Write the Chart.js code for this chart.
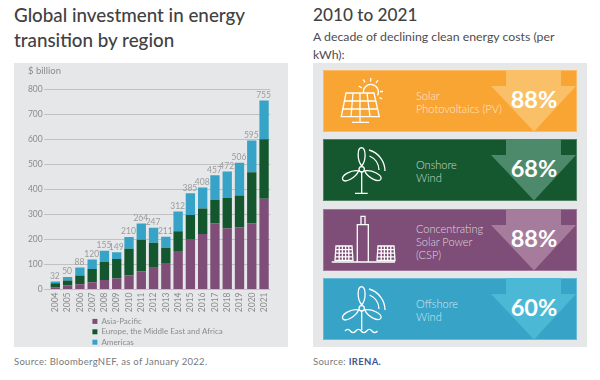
<!DOCTYPE html>
<html lang="en">
  <head>
    <meta charset="utf-8" />
    <title>Global investment in energy transition by region</title>
    <style>
      * {
        margin: 0;
        padding: 0;
        box-sizing: border-box;
        font-family: Lato, sans-serif;
      }
      body {
        width: 600px;
        height: 380px;
        background: #fff;
        position: relative;
        overflow: hidden;
      }
      .abs {
        position: absolute;
        white-space: nowrap;
      }
      .heading {
        font-size: 18.8px;
        font-weight: 500;
        color: #414142;
        line-height: 25px;
      }
      .sub {
        font-size: 12.3px;
        color: #4d4d4f;
        line-height: 18px;
      }
      .source {
        font-size: 9.5px;
        color: #77787b;
        letter-spacing: 0.3px;
      }
      .source b {
        color: #40598f;
      }
      .panel {
        background: #e6e7e8;
      }
      .card {
        position: absolute;
        left: 323px;
        width: 254px;
        height: 62px;
        border: 1px solid rgba(255, 255, 255, 0.25);
      }
      .card svg {
        position: absolute;
        left: -1px;
        top: -1px;
      }
      .card .name {
        position: absolute;
        left: 92px;
        font-size: 11px;
        font-weight: 300;
        line-height: 13px;
        color: rgba(255, 255, 255, 0.78);
        white-space: nowrap;
      }
      .card .pct {
        position: absolute;
        left: 160px;
        width: 100px;
        text-align: center;
        top: 13px;
        font-size: 23.5px;
        font-weight: 700;
        line-height: 30px;
        color: #fff;
      }
    </style>
  </head>
  <body>
    <div class="abs heading" style="left: 14px; top: 2px">Global investment in energy<br />transition by region</div>
    <div class="abs panel" style="left: 14px; top: 63px; width: 274px; height: 284px">
      <canvas id="myChart"></canvas>
    </div>
    <div class="abs source" style="left: 14px; top: 356px">Source: BloombergNEF, as of January 2022.</div>

    <div class="abs heading" style="left: 313px; top: 2px; font-size: 17.2px">2010 to 2021</div>
    <div class="abs sub" style="left: 313px; top: 28px">A decade of declining clean energy costs (per<br />kWh):</div>
    <div class="abs panel" style="left: 313px; top: 63px; width: 274px; height: 284px"></div>
    <div id="cards"></div>
    <div class="abs source" style="left: 313px; top: 356px">Source: <b>IRENA.</b></div>

    <script src="https://cdn.jsdelivr.net/npm/chart.js@4/dist/chart.umd.min.js"></script>

    <script>
      // data block
      const years = ["2004", "2005", "2006", "2007", "2008", "2009", "2010", "2011", "2012", "2013", "2014", "2015", "2016", "2017", "2018", "2019", "2020", "2021"];
      const asiaPacific = [9, 17, 21, 29, 38, 44, 56, 73, 87, 106, 154, 199, 222, 265, 244, 249, 265, 363];
      const emea = [16, 19, 35, 53, 73, 78, 107, 126, 100, 60, 79, 99, 102, 93, 122, 127, 204, 237];
      const americas = [7, 14, 32, 38, 44, 27, 47, 65, 60, 45, 79, 87, 84, 99, 106, 130, 126, 155];
      const totals = [32, 50, 88, 120, 155, 149, 210, 264, 247, 211, 312, 385, 408, 457, 472, 506, 595, 755];
      const seriesNames = ["Asia-Pacific", "Europe, the Middle East and Africa", "Americas"];
      const seriesColors = ["#7e4d78", "#14572e", "#37a3c7"];

      const costNames = [["Solar", "Photovoltaics (PV)"], ["Onshore", "Wind"], ["Concentrating", "Solar Power", "(CSP)"], ["Offshore", "Wind"]];
      const costDeclines = ["88%", "68%", "88%", "60%"];

      const axisGrey = "#8a8c8e";

      // total above each stack, plus the unit label and legend placement
      const extras = {
        id: "extras",
        afterLayout(chart) {
          const legend = chart.legend;
          legend.left = 76;
          legend.right = 274;
          legend.top = 252;
          legend.bottom = 300;
        },
        afterDatasetsDraw(chart) {
          const { ctx } = chart;
          const top = chart.getDatasetMeta(2).data;
          ctx.save();
          ctx.font = "8.5px Lato";
          ctx.fillStyle = "#9a9b9d";
          ctx.textAlign = "center";
          ctx.textBaseline = "bottom";
          totals.forEach((v, i) => ctx.fillText(v, top[i].x - 0.5, top[i].y - 1));
          ctx.textAlign = "left";
          ctx.textBaseline = "middle";
          ctx.fillStyle = axisGrey;
          ctx.font = "9.5px Lato";
          ctx.fillText("$ billion", 14, 7.5);
          ctx.restore();
        },
      };

      const config = {
        type: "bar",
        data: {
          labels: years,
          datasets: [asiaPacific, emea, americas].map((values, i) => ({
            label: seriesNames[i],
            data: values,
            backgroundColor: seriesColors[i],
            barPercentage: 0.76,
            categoryPercentage: 1,
          })),
        },
        options: {
          responsive: false,
          animation: false,
          layout: { padding: { top: 26.3, right: 17.8 } },
          plugins: {
            tooltip: { enabled: false },
            legend: {
              position: "chartArea",
              align: "start",
              labels: {
                boxWidth: 5,
                boxHeight: 5,
                padding: 2.4,
                color: axisGrey,
                font: { family: "Lato", size: 8 },
              },
            },
          },
          scales: {
            x: {
              stacked: true,
              afterFit(scale) {
                scale.height = 57.5;
              },
              grid: { display: false, drawTicks: false },
              border: { display: false },
              ticks: {
                autoSkip: false,
                minRotation: 90,
                maxRotation: 90,
                padding: 3,
                color: axisGrey,
                font: { family: "Lato", size: 8.5 },
              },
            },
            y: {
              stacked: true,
              min: 0,
              max: 800,
              afterFit(scale) {
                scale.width = 35.2;
              },
              grid: { color: "#bfc1c3", tickLength: 5 },
              border: { display: false },
              ticks: {
                stepSize: 100,
                padding: 1.5,
                color: axisGrey,
                font: { family: "Lato", size: 8.5 },
              },
            },
          },
        },
        plugins: [extras],
      };

      const canvas = document.getElementById("myChart");
      canvas.width = 274;
      canvas.height = 284;
      const myChart = new Chart(canvas, config);

      // right hand infographic
      const blade = "M38.7 27C34 21 34 9 38.5 8.7C43 9 43.5 21 38.7 27Z";
      const turbine = `
        <path d="${blade}"/>
        <path d="${blade}" transform="rotate(118 38.7 30.3)"/>
        <path d="${blade}" transform="rotate(-118 38.7 30.3)"/>
        <circle cx="38.7" cy="30.3" r="2.7"/>
        <path d="M46 11A22 22 0 0 1 62 32M46.5 17A16 16 0 0 1 56 31"/>`;
      const miniPanel = `
        <path d="M13 37H29L30 51.5H12ZM12.8 40.6H29.3M12.5 44.2H29.5M12.2 47.8H29.8M16.2 37V51.5M19.4 37V51.5M22.6 37V51.5M25.8 37V51.5"/>`;
      const icons = [
        `<path d="M23 23H51L56.3 46.7H18.3ZM21.4 31H52.8M19.8 39H54.6M30 23L28 46.7M37 23V46.7M44 23L47 46.7M37 46.7V52M29 52.3H46"/>
         <path d="M40.5 23A7.5 7.5 0 1 1 54.5 25.5M35.7 16L39 18M40.3 9.5L42 12.5M47.7 8V11.5M55 10L53 13M60 21.5H57M59 29L56.5 27.5"/>`,
        turbine + `<path d="M38.7 33V54.3M32 54.3H44.7"/>`,
        `<path d="M34.3 53V15.6H45.3V53M38 15.6V7.3H42V15.6M8.7 53H72"/>` + miniPanel + `<g transform="translate(42 0)">${miniPanel}</g>`,
        turbine + `<path d="M38.7 33V52M22 53q2.7 -3.4 5.4 0t5.4 0t5.4 0t5.4 0t5.4 0t5.4 0"/>`,
      ];
      const cardTops = [70, 139, 209, 278];
      const cardColors = ["#f9a533", "#15582f", "#7e4d78", "#37a3c7"];
      const arrowColors = ["#fac068", "#4d8a6c", "#a67c9d", "#4bb9d5"];
      const nameTops = [18, 18, 12, 18];

      document.getElementById("cards").innerHTML = cardTops
        .map(
          (top, i) => `
        <div class="card" style="top:${top}px;background:${cardColors[i]}">
          <svg width="254" height="62" fill="none" stroke="#fff" stroke-width="1.3">
            <polygon points="183,0 238,0 238,16 253,16 211,61.5 168,16 183,16" fill="${arrowColors[i]}" stroke="none"/>
            ${icons[i]}
          </svg>
          <div class="name" style="top:${nameTops[i]}px">${costNames[i].join("<br>")}</div>
          <div class="pct">${costDeclines[i]}</div>
        </div>`
        )
        .join("");
    </script>
  </body>
</html>
